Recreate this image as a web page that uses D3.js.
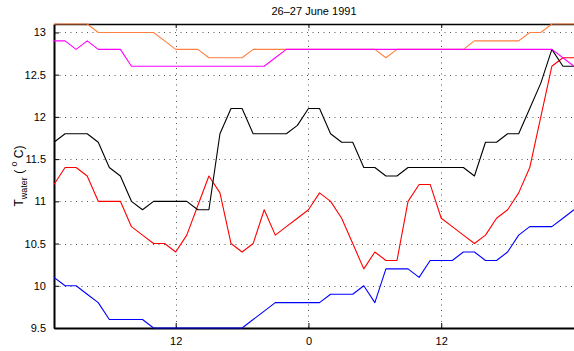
<!DOCTYPE html>
<html>
<head>
<meta charset="utf-8">
<script src="https://cdn.jsdelivr.net/npm/d3@7"></script>
<style>
  body { margin: 0; background: #fff; }
  svg { display: block; font-family: "Liberation Sans", Arial, Helvetica, sans-serif; }
</style>
</head>
<body>
<svg id="chart" width="574" height="351"></svg>
<script>
// Hours since 00:00 on 26 June 1991 (hourly samples)
const hours = d3.range(1, 49);

const blueSeries = [10.1,10.0,10.0,9.9,9.8,9.6,9.6,9.6,9.6,9.5,
  9.5,9.5,9.5,9.5,9.5,9.5,9.5,9.5,9.6,9.7,
  9.8,9.8,9.8,9.8,9.8,9.9,9.9,9.9,10.0,9.8,
  10.2,10.2,10.2,10.1,10.3,10.3,10.3,10.4,10.4,10.3,
  10.3,10.4,10.6,10.7,10.7,10.7,10.8,10.9];

const redSeries = [11.2,11.4,11.4,11.3,11.0,11.0,11.0,10.7,10.6,10.5,
  10.5,10.4,10.6,10.95,11.3,11.1,10.5,10.4,10.5,10.9,
  10.6,10.7,10.8,10.9,11.1,11.0,10.8,10.5,10.2,10.4,
  10.3,10.3,11.0,11.2,11.2,10.8,10.7,10.6,10.5,10.6,
  10.8,10.9,11.1,11.4,12.0,12.6,12.7,12.7];

const blackSeries = [11.7,11.8,11.8,11.8,11.7,11.4,11.3,11.0,10.9,11.0,
  11.0,11.0,11.0,10.9,10.9,11.8,12.1,12.1,11.8,11.8,
  11.8,11.8,11.9,12.1,12.1,11.8,11.7,11.7,11.4,11.4,
  11.3,11.3,11.4,11.4,11.4,11.4,11.4,11.4,11.3,11.7,
  11.7,11.8,11.8,12.1,12.4,12.8,12.6,12.6];

const magentaSeries = [12.9,12.9,12.8,12.9,12.8,12.8,12.8,12.6,12.6,12.6,
  12.6,12.6,12.6,12.6,12.6,12.6,12.6,12.6,12.6,12.6,
  12.7,12.8,12.8,12.8,12.8,12.8,12.8,12.8,12.8,12.8,
  12.8,12.8,12.8,12.8,12.8,12.8,12.8,12.8,12.8,12.8,
  12.8,12.8,12.8,12.8,12.8,12.8,12.7,12.6];

const orangeSeries = [13.1,13.1,13.1,13.1,13.0,13.0,13.0,13.0,13.0,13.0,
  12.9,12.8,12.8,12.8,12.7,12.7,12.7,12.7,12.8,12.8,
  12.8,12.8,12.8,12.8,12.8,12.8,12.8,12.8,12.8,12.8,
  12.7,12.8,12.8,12.8,12.8,12.8,12.8,12.8,12.9,12.9,
  12.9,12.9,12.9,13.0,13.0,13.1,13.1,13.1];

const xTickValues = [12, 24, 36];
const xTickLabels = ["12", "0", "12"];
const yTickValues = [9.5, 10, 10.5, 11, 11.5, 12, 12.5, 13];
const yTickLabels = ["9.5", "10", "10.5", "11", "11.5", "12", "12.5", "13"];
const titleText = "26\u201327 June 1991";

const series = [
  { values: blueSeries, color: "#0000ff" },
  { values: redSeries, color: "#ff0000" },
  { values: blackSeries, color: "#000000" },
  { values: orangeSeries, color: "#ff8040" },
  { values: magentaSeries, color: "#ff00ff" }
];

const L = 54, R = 574, T = 24, B = 328;
const svg = d3.select("#chart");
const x = d3.scaleLinear().domain([1, 48]).range([L, R]);
const y = d3.scaleLinear().domain([9.5, 13.1]).range([B, T]);

// grid
const grid = svg.append("g").attr("stroke", "#555").attr("stroke-width", 1)
  .attr("stroke-dasharray", "1,4.5");
grid.selectAll("line.gy").data(yTickValues.filter(v => v > 9.5)).enter().append("line")
  .attr("x1", L).attr("x2", R)
  .attr("y1", d => Math.round(y(d)) + 0.5).attr("y2", d => Math.round(y(d)) + 0.5);
grid.selectAll("line.gx").data(xTickValues).enter().append("line")
  .attr("y1", T).attr("y2", B)
  .attr("x1", d => Math.round(x(d)) + 0.5).attr("x2", d => Math.round(x(d)) + 0.5);

// axes
const yAxis = d3.axisLeft(y).tickValues(yTickValues)
  .tickFormat((d, i) => yTickLabels[i]).tickSizeInner(-5).tickSizeOuter(0).tickPadding(8);
const gy = svg.append("g").attr("transform", `translate(${L},0)`).call(yAxis);
gy.select(".domain").attr("stroke", "#000").attr("stroke-width", 2);
gy.selectAll(".tick line").attr("stroke", "#000");
gy.selectAll(".tick text").attr("font-size", 11).attr("fill", "#000")
  .attr("font-family", "Liberation Sans, Arial, sans-serif");

const xAxis = d3.axisBottom(x).tickValues(xTickValues)
  .tickFormat((d, i) => xTickLabels[i]).tickSizeInner(-5).tickSizeOuter(0).tickPadding(9);
const gx = svg.append("g").attr("transform", `translate(0,${B})`).call(xAxis);
gx.select(".domain").attr("stroke", "#000").attr("stroke-width", 2);
gx.selectAll(".tick line").attr("stroke", "#000");
gx.selectAll(".tick text").attr("font-size", 11).attr("fill", "#000")
  .attr("font-family", "Liberation Sans, Arial, sans-serif");

const xTop = d3.axisTop(x).tickValues(xTickValues).tickFormat("").tickSizeInner(-4).tickSizeOuter(0);
const gt = svg.append("g").attr("transform", `translate(0,${T})`).call(xTop);
gt.select(".domain").attr("stroke", "#000").attr("stroke-width", 1.5);
gt.selectAll(".tick line").attr("stroke", "#000");

// lines (drawn over the axes, as in the reference)
const line = d3.line().x((d, i) => x(hours[i])).y(d => y(d));
svg.append("g").selectAll("path").data(series).enter().append("path")
  .attr("d", d => line(d.values))
  .attr("fill", "none")
  .attr("stroke", d => d.color)
  .attr("stroke-width", 1.1)
  .attr("stroke-linejoin", "round");

// title
svg.append("text").attr("x", (L + R) / 2).attr("y", 15).attr("text-anchor", "middle")
  .attr("font-size", 11).attr("fill", "#000").text(titleText);

// y label
const yl = svg.append("text").attr("transform", `translate(23,${(T + B) / 2}) rotate(-90)`)
  .attr("text-anchor", "middle").attr("font-size", 12).attr("fill", "#000");
yl.append("tspan").text("T");
yl.append("tspan").attr("font-size", 9).attr("dy", 4).text("water");
yl.append("tspan").attr("dy", -4).text(" ( ");
yl.append("tspan").attr("font-size", 9).attr("dy", -6).text("o");
yl.append("tspan").attr("dy", 6).text(" C)");
</script>
</body>
</html>
